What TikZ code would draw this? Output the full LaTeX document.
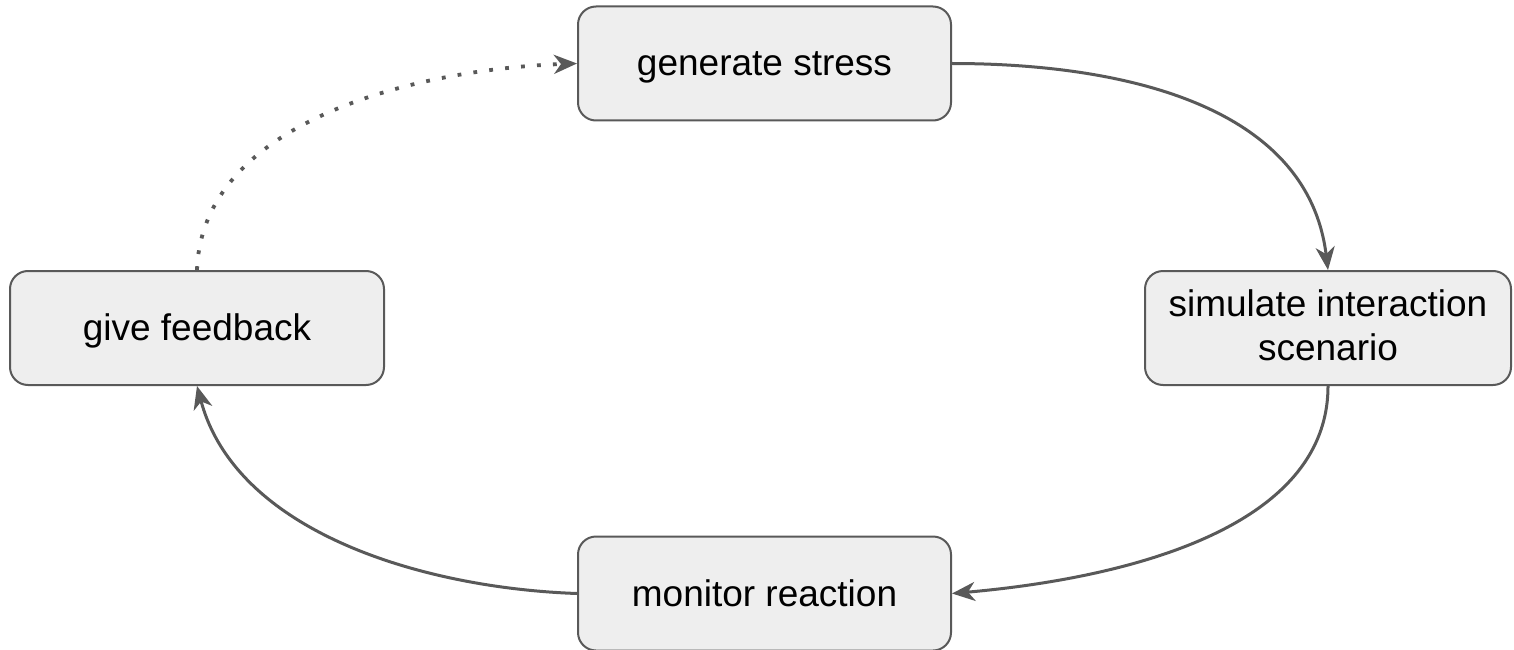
\documentclass[tikz,border=0pt]{standalone}
\usepackage{fontspec}
\setmainfont{Liberation Sans}
\usetikzlibrary{arrows.meta}
\definecolor{boxfill}{HTML}{EEEEEE}
\definecolor{edge}{HTML}{595959}
\begin{document}
\begin{tikzpicture}[x=1pt,y=-1pt,
  stepbox/.style={draw=edge, line width=2pt, fill=boxfill, rounded corners=18pt,
    minimum height=114pt, inner sep=0pt, align=center,
    text height=32pt, text depth=7pt,
    font=\fontsize{37}{44}\selectfont},
  flow/.style={draw=edge, line width=3pt,
    -{Stealth[length=23pt, width=19pt, inset=7pt]}},
  dotflow/.style={draw=edge, line width=3.8pt, dash pattern=on 3.8pt off 12.2pt,
    -{Stealth[length=23pt, width=19pt, inset=7pt]}}]
\useasboundingbox (0,0) rectangle (1514,650);
\node[stepbox, minimum width=373pt] (gen) at (764.5,63.5) {generate stress};
\node[stepbox, minimum width=366pt, text height=71pt, text depth=7pt] (sim) at (1328,328) {simulate interaction\\scenario};
\node[stepbox, minimum width=373pt] (mon) at (764.5,593.5) {monitor reaction};
\node[stepbox, minimum width=374pt] (fb) at (197,328) {give feedback};
\draw[flow] (gen.east) to[out=0, in=97, looseness=1.0] (sim.north);
\draw[flow] (sim.south) to[out=-90, in=5, looseness=0.9] (mon.east);
\draw[flow] (mon.west) to[out=178, in=-75, looseness=0.9] (fb.south);
\draw[dotflow] (fb.north) to[out=88, in=182, looseness=0.9] (gen.west);
\end{tikzpicture}
\end{document}
